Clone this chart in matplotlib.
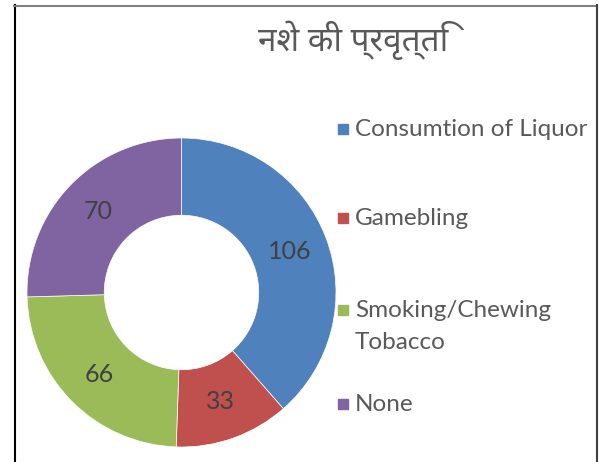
import matplotlib
matplotlib.use('Agg')
import matplotlib.pyplot as plt
from matplotlib import font_manager
from matplotlib.patches import Rectangle
from matplotlib.lines import Line2D

title = 'नशे की प्रवृत्ति'
categories = ['Consumtion of Liquor', 'Gamebling', 'Smoking/Chewing\nTobacco', 'None']
values = [106, 33, 66, 70]
colors = ['#4F81BD', '#C0504D', '#9BBB59', '#8064A2']

# pick an installed Devanagari font
installed = {f.name for f in font_manager.fontManager.ttflist}
deva_font = next((n for n in ['Noto Sans Devanagari', 'Hind', 'Mukta', 'Ek Mukta', 'FreeSans']
                  if n in installed), 'DejaVu Sans')

fig = plt.figure(figsize=(5.99, 4.62), dpi=100)

ax = fig.add_axes([27 / 599, 15 / 462, 309 / 599, 309 / 462])
wedges, texts, autotexts = ax.pie(values, colors=colors, startangle=90, counterclock=False,
                                  radius=1, autopct=lambda p: '%d' % round(p * sum(values) / 100),
                                  pctdistance=0.75,
                                  wedgeprops=dict(width=0.5, edgecolor='white', linewidth=0.5),
                                  textprops=dict(fontsize=18, color='#404040', family='Lato'))
ax.set_xlim(-1, 1)
ax.set_ylim(-1, 1)
ax.set_aspect('equal')

fig.text(353 / 599, 1 - 40 / 462, title, ha='center', va='center', fontsize=24,
         color='#595959', family=[deva_font, 'DejaVu Sans'])

# legend, drawn entry by entry
legend_y = [129, 218, 310, 404]
for c, lab, y in zip(colors, categories, legend_y):
    fig.add_artist(Rectangle((338 / 599, 1 - (y + 5) / 462), 10 / 599, 10 / 462,
                             transform=fig.transFigure, color=c))
    fig.text(355 / 599, 1 - (y - 10) / 462, lab, ha='left', va='top', fontsize=17.5,
             color='#595959', family='Lato', linespacing=1.62)

# frame lines
fig.add_artist(Line2D([14.5 / 599, 14.5 / 599], [0, 1 - 5 / 462], color='black', lw=1.5))
fig.add_artist(Line2D([14 / 599, 596.5 / 599], [1 - 5.5 / 462, 1 - 5.5 / 462], color='#808080', lw=1.5))
fig.add_artist(Line2D([596.5 / 599, 596.5 / 599], [0, 1 - 5 / 462], color='#404040', lw=1.5))

fig.savefig('out.png', dpi=100)
